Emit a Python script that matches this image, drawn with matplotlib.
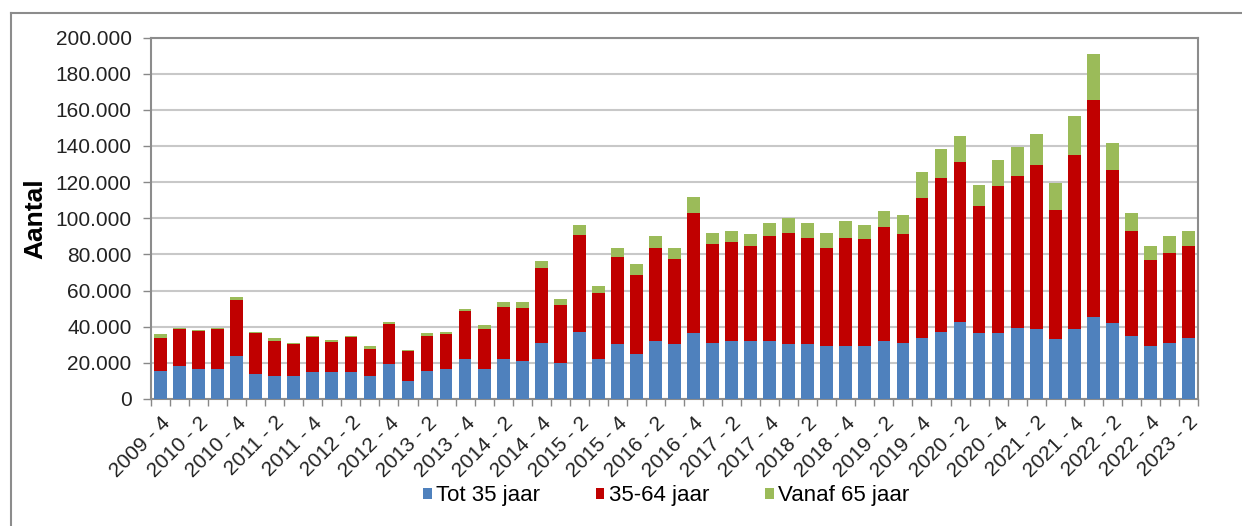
import matplotlib.pyplot as plt
from matplotlib.lines import Line2D
import numpy as np

plt.rcParams['font.family'] = ['Liberation Sans', 'DejaVu Sans']

# quarters 2009-4 .. 2023-2
quarters = ["2009 - 4"] + [f"{y} - {q}" for y in range(2010, 2023) for q in range(1, 5)] + ["2023 - 1", "2023 - 2"]

# values in thousands
tot_35 = [15.6, 18.2, 16.6, 16.6, 23.9, 13.8, 12.9, 12.9, 14.7, 14.7,
          14.7, 12.9, 19.2, 10.1, 15.6, 16.6, 21.9, 16.6, 21.9, 21.0,
          31.1, 20.1, 37.2, 21.9, 30.2, 24.7, 32.0, 30.2, 36.6, 31.1,
          32.0, 32.0, 32.0, 30.2, 30.2, 29.3, 29.3, 29.3, 32.0, 31.1,
          33.9, 37.2, 42.7, 36.3, 36.3, 39.1, 38.5, 33.0, 38.5, 45.5,
          42.2, 34.8, 29.3, 31.1, 33.9]
j35_64 = [18.2, 20.6, 21.1, 22.2, 30.8, 22.5, 19.3, 17.7, 19.4, 16.6,
          19.4, 14.5, 22.2, 16.6, 19.4, 19.3, 26.7, 22.1, 29.1, 29.1,
          41.1, 31.8, 53.8, 36.5, 48.4, 43.8, 51.6, 47.1, 66.3, 54.5,
          54.6, 52.7, 58.2, 61.9, 59.1, 54.5, 60.0, 59.1, 62.9, 60.1,
          77.3, 85.1, 88.4, 70.3, 81.4, 84.1, 90.8, 71.8, 96.3, 120.1,
          84.3, 58.2, 47.5, 49.7, 50.8]
vanaf_65 = [1.9, 0.4, 0.5, 0.6, 1.8, 0.6, 1.3, 0.6, 0.6, 1.5,
            0.7, 1.7, 1.3, 0.5, 1.3, 1.3, 1.3, 2.2, 2.8, 3.7,
            4.2, 3.5, 5.5, 4.2, 5.0, 6.1, 6.6, 6.3, 8.9, 6.5,
            6.4, 6.5, 7.2, 8.1, 8.1, 8.3, 9.0, 8.1, 9.0, 10.8,
            14.4, 16.2, 14.6, 11.6, 14.3, 16.2, 17.1, 14.7, 21.6, 25.4,
            15.3, 9.9, 7.9, 9.3, 8.1]

blue = np.array(tot_35) * 1000
red = np.array(j35_64) * 1000
green = np.array(vanaf_65) * 1000
x = np.arange(len(quarters))

fig = plt.figure(figsize=(12.42, 5.26), dpi=100)
ax = fig.add_axes([151 / 1242, 1 - 399 / 526, (1198 - 151) / 1242, (399 - 37.5) / 526])

w = 0.67
ax.bar(x, blue, w, color='#4F81BD', label='Tot 35 jaar', zorder=3)
ax.bar(x, red, w, bottom=blue, color='#C00000', label='35-64 jaar', zorder=3)
ax.bar(x, green, w, bottom=blue + red, color='#9BBB59', label='Vanaf 65 jaar', zorder=3)

ax.set_xlim(-0.5, len(quarters) - 0.5)
ax.set_ylim(0, 200000)
yt = np.arange(0, 200001, 20000)
ax.set_yticks(yt)
ax.set_yticklabels([f"{v:,}".replace(',', '.') for v in yt], fontsize=15, color='#222222')
ax.yaxis.grid(True, color='#C8C8C8', linewidth=1.5, zorder=0)

ax.set_xticks(x[::2])
ax.set_xticklabels(quarters[::2], rotation=45, ha='right', va='top',
                   rotation_mode='anchor', fontsize=15, color='#222222')
ax.set_xticks(np.arange(-0.5, len(quarters)), minor=True)
ax.tick_params(axis='x', which='major', length=0, pad=10)
ax.tick_params(axis='x', which='minor', length=5, color='#888888', width=1)
ax.tick_params(axis='y', length=6, color='#888888', width=1, pad=8)

for s in ax.spines.values():
    s.set_color('#8C8C8C')
    s.set_linewidth(1.5)

ax.set_ylabel('Aantal', fontsize=19, fontweight='bold', labelpad=6)

ax.legend(loc='center', bbox_to_anchor=(666 / 1242, 1 - 496 / 526), bbox_transform=fig.transFigure,
          ncol=3, frameon=False, fontsize=16, handlelength=0.4, handleheight=0.4,
          handletextpad=0.2, columnspacing=2.5)

# outer chart frame (left and top edges visible)
fig.add_artist(Line2D([11 / 1242, 11 / 1242], [0, 1 - 13 / 526], color='#8C8C8C', lw=1.5))
fig.add_artist(Line2D([11 / 1242, 1], [1 - 13 / 526, 1 - 13 / 526], color='#8C8C8C', lw=1.5))

fig.savefig('out.png', dpi=100)
